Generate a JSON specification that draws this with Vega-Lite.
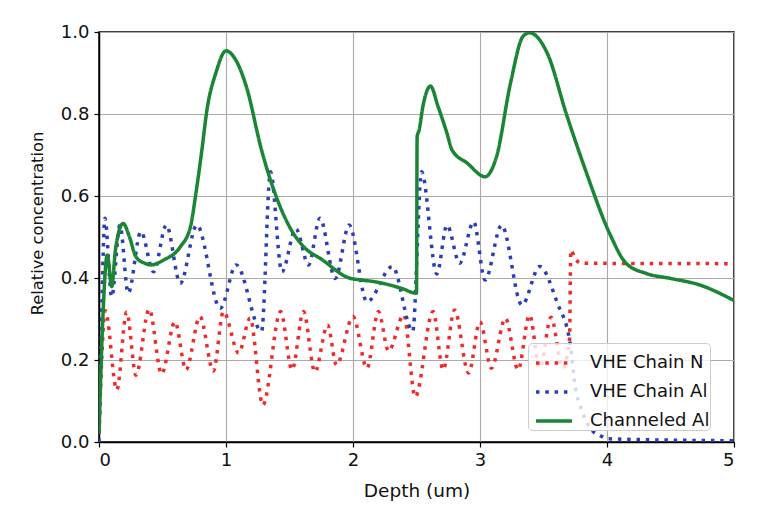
{
  "$schema": "https://vega.github.io/schema/vega-lite/v6.json",
  "width": 635,
  "height": 410,
  "autosize": {"type": "none"},
  "padding": {"left": 99, "top": 32, "right": 26, "bottom": 70},
  "background": "white",
  "config": {
    "font": "DejaVu Sans",
    "view": {"stroke": "#000000", "strokeWidth": 1.5},
    "axis": {
      "gridColor": "#b0a8a8",
      "gridWidth": 1.1,
      "domainColor": "#000000",
      "domainWidth": 1.5,
      "tickColor": "#000000",
      "tickSize": 5,
      "tickWidth": 1.2,
      "labelFontSize": 18,
      "labelColor": "#111111",
      "titleFontSize": 18.5,
      "titleFontWeight": "normal",
      "titleColor": "#111111"
    }
  },
  "data": {
    "values": [
      {"s": "VHE Chain N", "x": 0.0, "y": 0.02},
      {"s": "VHE Chain N", "x": 0.05, "y": 0.32},
      {"s": "VHE Chain N", "x": 0.14, "y": 0.127},
      {"s": "VHE Chain N", "x": 0.218, "y": 0.317},
      {"s": "VHE Chain N", "x": 0.291, "y": 0.163},
      {"s": "VHE Chain N", "x": 0.395, "y": 0.324},
      {"s": "VHE Chain N", "x": 0.493, "y": 0.166},
      {"s": "VHE Chain N", "x": 0.598, "y": 0.293},
      {"s": "VHE Chain N", "x": 0.685, "y": 0.176},
      {"s": "VHE Chain N", "x": 0.795, "y": 0.306},
      {"s": "VHE Chain N", "x": 0.9, "y": 0.173},
      {"s": "VHE Chain N", "x": 0.98, "y": 0.318},
      {"s": "VHE Chain N", "x": 1.1, "y": 0.217},
      {"s": "VHE Chain N", "x": 1.19, "y": 0.302},
      {"s": "VHE Chain N", "x": 1.29, "y": 0.09},
      {"s": "VHE Chain N", "x": 1.43, "y": 0.318},
      {"s": "VHE Chain N", "x": 1.52, "y": 0.176},
      {"s": "VHE Chain N", "x": 1.61, "y": 0.318},
      {"s": "VHE Chain N", "x": 1.7, "y": 0.171},
      {"s": "VHE Chain N", "x": 1.8, "y": 0.285},
      {"s": "VHE Chain N", "x": 1.87, "y": 0.188},
      {"s": "VHE Chain N", "x": 2.0, "y": 0.306},
      {"s": "VHE Chain N", "x": 2.11, "y": 0.18},
      {"s": "VHE Chain N", "x": 2.2, "y": 0.318},
      {"s": "VHE Chain N", "x": 2.28, "y": 0.222},
      {"s": "VHE Chain N", "x": 2.4, "y": 0.31},
      {"s": "VHE Chain N", "x": 2.49, "y": 0.11},
      {"s": "VHE Chain N", "x": 2.63, "y": 0.318},
      {"s": "VHE Chain N", "x": 2.71, "y": 0.176},
      {"s": "VHE Chain N", "x": 2.8, "y": 0.322},
      {"s": "VHE Chain N", "x": 2.91, "y": 0.168},
      {"s": "VHE Chain N", "x": 3.0, "y": 0.293},
      {"s": "VHE Chain N", "x": 3.09, "y": 0.18},
      {"s": "VHE Chain N", "x": 3.2, "y": 0.302},
      {"s": "VHE Chain N", "x": 3.3, "y": 0.176},
      {"s": "VHE Chain N", "x": 3.39, "y": 0.31},
      {"s": "VHE Chain N", "x": 3.47, "y": 0.18},
      {"s": "VHE Chain N", "x": 3.56, "y": 0.304},
      {"s": "VHE Chain N", "x": 3.65, "y": 0.18},
      {"s": "VHE Chain N", "x": 3.705, "y": 0.25},
      {"s": "VHE Chain N", "x": 3.715, "y": 0.468},
      {"s": "VHE Chain N", "x": 3.75, "y": 0.447},
      {"s": "VHE Chain N", "x": 3.8, "y": 0.436},
      {"s": "VHE Chain N", "x": 5.0, "y": 0.435},
      {"s": "VHE Chain Al", "x": 0.0, "y": 0.0},
      {"s": "VHE Chain Al", "x": 0.02, "y": 0.3},
      {"s": "VHE Chain Al", "x": 0.047, "y": 0.546},
      {"s": "VHE Chain Al", "x": 0.1, "y": 0.354},
      {"s": "VHE Chain Al", "x": 0.165, "y": 0.529},
      {"s": "VHE Chain Al", "x": 0.23, "y": 0.363},
      {"s": "VHE Chain Al", "x": 0.33, "y": 0.513},
      {"s": "VHE Chain Al", "x": 0.43, "y": 0.415},
      {"s": "VHE Chain Al", "x": 0.53, "y": 0.529},
      {"s": "VHE Chain Al", "x": 0.64, "y": 0.387},
      {"s": "VHE Chain Al", "x": 0.77, "y": 0.529},
      {"s": "VHE Chain Al", "x": 0.955, "y": 0.326},
      {"s": "VHE Chain Al", "x": 1.08, "y": 0.432},
      {"s": "VHE Chain Al", "x": 1.28, "y": 0.27},
      {"s": "VHE Chain Al", "x": 1.35, "y": 0.659},
      {"s": "VHE Chain Al", "x": 1.44, "y": 0.415},
      {"s": "VHE Chain Al", "x": 1.55, "y": 0.52},
      {"s": "VHE Chain Al", "x": 1.65, "y": 0.432},
      {"s": "VHE Chain Al", "x": 1.74, "y": 0.546},
      {"s": "VHE Chain Al", "x": 1.86, "y": 0.399},
      {"s": "VHE Chain Al", "x": 1.97, "y": 0.529},
      {"s": "VHE Chain Al", "x": 2.11, "y": 0.342},
      {"s": "VHE Chain Al", "x": 2.31, "y": 0.428},
      {"s": "VHE Chain Al", "x": 2.47, "y": 0.27},
      {"s": "VHE Chain Al", "x": 2.54, "y": 0.659},
      {"s": "VHE Chain Al", "x": 2.66, "y": 0.41},
      {"s": "VHE Chain Al", "x": 2.74, "y": 0.529},
      {"s": "VHE Chain Al", "x": 2.84, "y": 0.436},
      {"s": "VHE Chain Al", "x": 2.95, "y": 0.537},
      {"s": "VHE Chain Al", "x": 3.04, "y": 0.395},
      {"s": "VHE Chain Al", "x": 3.17, "y": 0.529},
      {"s": "VHE Chain Al", "x": 3.33, "y": 0.334},
      {"s": "VHE Chain Al", "x": 3.47, "y": 0.428},
      {"s": "VHE Chain Al", "x": 3.61, "y": 0.338},
      {"s": "VHE Chain Al", "x": 3.71, "y": 0.24},
      {"s": "VHE Chain Al", "x": 3.75, "y": 0.135},
      {"s": "VHE Chain Al", "x": 3.8, "y": 0.078},
      {"s": "VHE Chain Al", "x": 3.88, "y": 0.029},
      {"s": "VHE Chain Al", "x": 3.95, "y": 0.015},
      {"s": "VHE Chain Al", "x": 4.0, "y": 0.008},
      {"s": "VHE Chain Al", "x": 5.0, "y": 0.003},
      {"s": "Channeled Al", "x": 0.0, "y": 0.02},
      {"s": "Channeled Al", "x": 0.03, "y": 0.3},
      {"s": "Channeled Al", "x": 0.065, "y": 0.456},
      {"s": "Channeled Al", "x": 0.1, "y": 0.379},
      {"s": "Channeled Al", "x": 0.13, "y": 0.47},
      {"s": "Channeled Al", "x": 0.19, "y": 0.533},
      {"s": "Channeled Al", "x": 0.24, "y": 0.5},
      {"s": "Channeled Al", "x": 0.29, "y": 0.452},
      {"s": "Channeled Al", "x": 0.36, "y": 0.436},
      {"s": "Channeled Al", "x": 0.41, "y": 0.432},
      {"s": "Channeled Al", "x": 0.51, "y": 0.444},
      {"s": "Channeled Al", "x": 0.64, "y": 0.476},
      {"s": "Channeled Al", "x": 0.72, "y": 0.525},
      {"s": "Channeled Al", "x": 0.76, "y": 0.6},
      {"s": "Channeled Al", "x": 0.81, "y": 0.712},
      {"s": "Channeled Al", "x": 0.85, "y": 0.81},
      {"s": "Channeled Al", "x": 0.92, "y": 0.9},
      {"s": "Channeled Al", "x": 1.0, "y": 0.954},
      {"s": "Channeled Al", "x": 1.08, "y": 0.93},
      {"s": "Channeled Al", "x": 1.16, "y": 0.867},
      {"s": "Channeled Al", "x": 1.28, "y": 0.712},
      {"s": "Channeled Al", "x": 1.5, "y": 0.525},
      {"s": "Channeled Al", "x": 1.6, "y": 0.48},
      {"s": "Channeled Al", "x": 1.76, "y": 0.444},
      {"s": "Channeled Al", "x": 1.97, "y": 0.4},
      {"s": "Channeled Al", "x": 2.07, "y": 0.395},
      {"s": "Channeled Al", "x": 2.17, "y": 0.391},
      {"s": "Channeled Al", "x": 2.38, "y": 0.375},
      {"s": "Channeled Al", "x": 2.5, "y": 0.363},
      {"s": "Channeled Al", "x": 2.505, "y": 0.745},
      {"s": "Channeled Al", "x": 2.52, "y": 0.76},
      {"s": "Channeled Al", "x": 2.55, "y": 0.818},
      {"s": "Channeled Al", "x": 2.61, "y": 0.868},
      {"s": "Channeled Al", "x": 2.67, "y": 0.818},
      {"s": "Channeled Al", "x": 2.74, "y": 0.753},
      {"s": "Channeled Al", "x": 2.78, "y": 0.712},
      {"s": "Channeled Al", "x": 2.9, "y": 0.68},
      {"s": "Channeled Al", "x": 3.04, "y": 0.647},
      {"s": "Channeled Al", "x": 3.13, "y": 0.696},
      {"s": "Channeled Al", "x": 3.24, "y": 0.875},
      {"s": "Channeled Al", "x": 3.34, "y": 0.99},
      {"s": "Channeled Al", "x": 3.39, "y": 0.998},
      {"s": "Channeled Al", "x": 3.53, "y": 0.948},
      {"s": "Channeled Al", "x": 3.68, "y": 0.8},
      {"s": "Channeled Al", "x": 3.84, "y": 0.655},
      {"s": "Channeled Al", "x": 4.02, "y": 0.509},
      {"s": "Channeled Al", "x": 4.15, "y": 0.436},
      {"s": "Channeled Al", "x": 4.31, "y": 0.411},
      {"s": "Channeled Al", "x": 4.5, "y": 0.399},
      {"s": "Channeled Al", "x": 4.73, "y": 0.383},
      {"s": "Channeled Al", "x": 5.0, "y": 0.345}
    ]
  },
  "mark": {"type": "line", "interpolate": "monotone", "strokeCap": "butt", "clip": true},
  "encoding": {
    "x": {
      "field": "x",
      "type": "quantitative",
      "scale": {"domain": [0, 5], "nice": false, "zero": false},
      "axis": {"values": [0, 1, 2, 3, 4, 5], "format": "d", "title": "Depth (um)", "labelPadding": 4, "titlePadding": 12}
    },
    "y": {
      "field": "y",
      "type": "quantitative",
      "scale": {"domain": [0, 1], "nice": false},
      "axis": {"values": [0, 0.2, 0.4, 0.6, 0.8, 1.0], "format": ".1f", "title": "Relative concentration", "titleFontSize": 16.3, "titleY": 191, "labelPadding": 5, "titlePadding": 15}
    },
    "color": {
      "field": "s",
      "type": "nominal",
      "scale": {"domain": ["VHE Chain N", "VHE Chain Al", "Channeled Al"], "range": ["#ee2a2a", "#2b3fb5", "#1a8535"]},
      "legend": {
        "title": null,
        "orient": "none",
        "legendX": 429,
        "legendY": 311,
        "fillColor": "rgba(255,255,255,0.8)",
        "strokeColor": "#cccccc",
        "cornerRadius": 4,
        "padding": 0,
        "symbolType": "stroke",
        "symbolSize": 1296,
        "symbolOffset": 6,
        "labelFontSize": 18,
        "labelColor": "#111111",
        "labelOffset": 16,
        "rowPadding": -2
      }
    },
    "strokeDash": {
      "field": "s",
      "type": "nominal",
      "scale": {"domain": ["VHE Chain N", "VHE Chain Al", "Channeled Al"], "range": [[3.5, 5.8], [3.5, 5.8], [1, 0]]},
      "legend": null
    },
    "strokeWidth": {
      "field": "s",
      "type": "nominal",
      "scale": {"domain": ["VHE Chain N", "VHE Chain Al", "Channeled Al"], "range": [3.5, 3.5, 4]},
      "legend": null
    }
  }
}
